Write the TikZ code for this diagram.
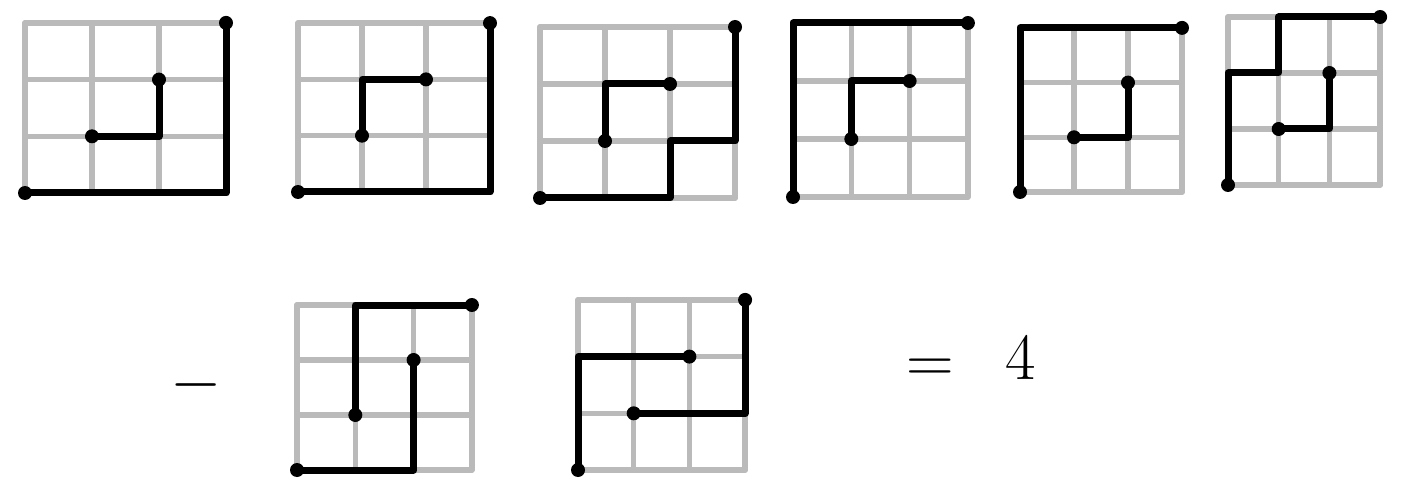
\RequirePackage{fix-cm}
\documentclass[tikz,border=0pt]{standalone}
\newcommand{\latticelines}{%
  \foreach \k in {0,...,3} {
    \draw[gridline] (\k,0) -- (\k,3);
    \draw[gridline] (0,\k) -- (3,\k);
  }}
\begin{document}
\begin{tikzpicture}[x=1pt,y=-1pt,
    gridline/.style={line width=5.5pt, black!27, line cap=round},
    walk/.style={line width=7pt, black, line cap=round, line join=round},
    bigsign/.style={font=\fontsize{66}{66}\selectfont, inner sep=0pt}]
    % Frame
    \useasboundingbox (0,0) rectangle (1403,481);
    % Upper row
    \begin{scope}[shift={(25pt,-193pt)}, x={(67pt,0pt)}, y={(0pt,56.7pt)}]
        \latticelines
        \draw[walk] (0,0) -- (3,0) -- (3,3);
        \draw[walk] (2,2) -- (2,1) -- (1,1);
        \fill (0,0) circle (7pt) (3,3) circle (7pt) (2,2) circle (7pt) (1,1) circle (7pt);
    \end{scope}
    \begin{scope}[shift={(298pt,-192pt)}, x={(64pt,0pt)}, y={(0pt,56.3pt)}]
        \latticelines
        \draw[walk] (0,0) -- (3,0) -- (3,3);
        \draw[walk] (1,1) -- (1,2) -- (2,2);
        \fill (0,0) circle (7pt) (3,3) circle (7pt) (2,2) circle (7pt) (1,1) circle (7pt);
    \end{scope}
    \begin{scope}[shift={(540pt,-198pt)}, x={(65pt,0pt)}, y={(0pt,57pt)}]
        \latticelines
        \draw[walk] (0,0) -- (2,0) -- (2,1) -- (3,1) -- (3,3);
        \draw[walk] (1,1) -- (1,2) -- (2,2);
        \fill (0,0) circle (7pt) (3,3) circle (7pt) (2,2) circle (7pt) (1,1) circle (7pt);
    \end{scope}
    \begin{scope}[shift={(793pt,-197pt)}, x={(58.3pt,0pt)}, y={(0pt,58pt)}]
        \latticelines
        \draw[walk] (0,0) -- (0,3) -- (3,3);
        \draw[walk] (1,1) -- (1,2) -- (2,2);
        \fill (0,0) circle (7pt) (3,3) circle (7pt) (2,2) circle (7pt) (1,1) circle (7pt);
    \end{scope}
    \begin{scope}[shift={(1020pt,-192pt)}, x={(54pt,0pt)}, y={(0pt,54.7pt)}]
        \latticelines
        \draw[walk] (0,0) -- (0,3) -- (3,3);
        \draw[walk] (1,1) -- (2,1) -- (2,2);
        \fill (0,0) circle (7pt) (3,3) circle (7pt) (2,2) circle (7pt) (1,1) circle (7pt);
    \end{scope}
    \begin{scope}[shift={(1228pt,-185pt)}, x={(50.7pt,0pt)}, y={(0pt,56pt)}]
        \latticelines
        \draw[walk] (0,0) -- (0,2) -- (1,2) -- (1,3) -- (3,3);
        \draw[walk] (1,1) -- (2,1) -- (2,2);
        \fill (0,0) circle (7pt) (3,3) circle (7pt) (2,2) circle (7pt) (1,1) circle (7pt);
    \end{scope}
    % Lower row
    \node[bigsign] (minus) at (196,385) {$-$};
    \begin{scope}[shift={(297pt,-470pt)}, x={(58.3pt,0pt)}, y={(0pt,55pt)}]
        \latticelines
        \draw[walk] (0,0) -- (2,0) -- (2,2);
        \draw[walk] (1,1) -- (1,3) -- (3,3);
        \fill (0,0) circle (7pt) (3,3) circle (7pt) (2,2) circle (7pt) (1,1) circle (7pt);
    \end{scope}
    \begin{scope}[shift={(578pt,-470pt)}, x={(55.7pt,0pt)}, y={(0pt,56.7pt)}]
        \latticelines
        \draw[walk] (0,0) -- (0,2) -- (2,2);
        \draw[walk] (1,1) -- (3,1) -- (3,3);
        \fill (0,0) circle (7pt) (3,3) circle (7pt) (2,2) circle (7pt) (1,1) circle (7pt);
    \end{scope}
    \node[bigsign] (equals) at (930,371) {$=$};
    \node[bigsign] (four) at (1021,358) {$4$};
\end{tikzpicture}
\end{document}
